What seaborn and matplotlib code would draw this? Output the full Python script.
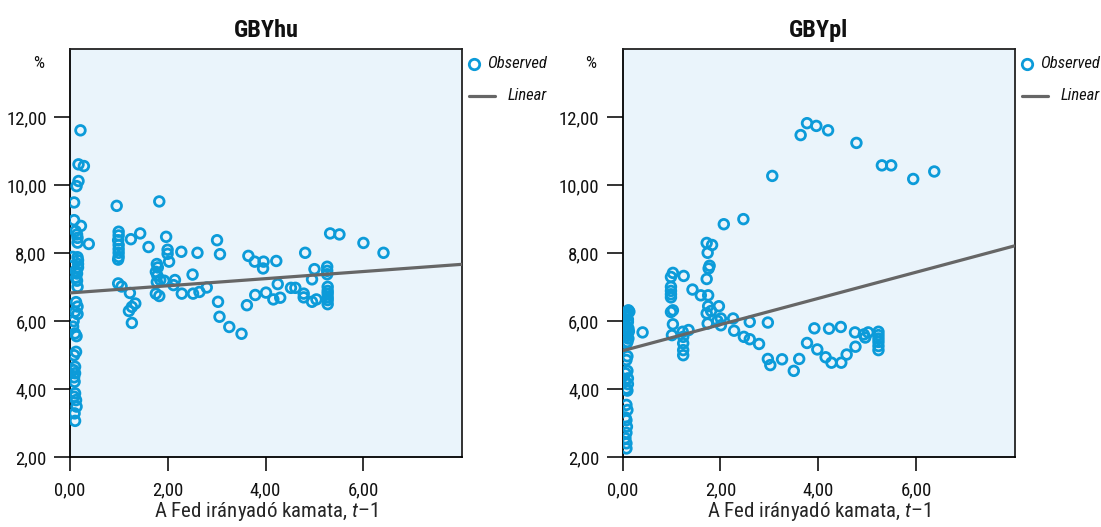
import matplotlib
matplotlib.use("Agg")
import matplotlib.pyplot as plt
import seaborn as sns
from matplotlib.lines import Line2D

# ---- data ----
hu_x = [0.22, 0.18, 0.29, 0.18, 0.14, 0.09, 0.09, 0.23, 0.12, 0.15, 0.16, 0.16, 0.39,
        0.06, 0.16, 0.17, 0.17, 0.17, 0.12, 0.15, 0.13, 0.15, 0.16, 0.13, 0.16, 0.11,
        0.16, 0.08, 0.07, 0.11, 0.14, 0.13, 0.09, 0.11, 0.08, 0.11, 0.09, 0.10, 0.11,
        0.09, 0.13, 0.14, 0.10, 0.11,
        0.96, 1.00, 1.00, 0.99, 1.00, 1.00, 1.00, 1.00, 0.99, 0.99, 1.06, 1.23, 1.34,
        1.27, 1.21, 1.27, 1.25, 1.44, 1.61, 1.83, 1.97, 2.00, 2.00, 2.03, 1.78, 1.80,
        1.76, 1.79, 1.78, 1.85, 1.76, 1.83, 1.93, 2.15, 2.12, 2.29, 2.28, 2.51, 2.52,
        2.65, 2.80, 2.61, 3.01, 3.07, 3.03, 3.06, 3.26, 3.51, 3.62, 3.65, 3.78, 3.79,
        3.96, 3.95, 4.01, 4.16, 4.22, 4.25, 4.30, 4.52, 4.61, 4.78, 4.78, 4.81, 4.95,
        5.04, 5.00, 4.95, 5.26, 5.26, 5.26, 5.27, 5.27, 5.27, 5.27, 5.27, 5.27, 5.32,
        5.51, 6.00, 6.41]
hu_y = [11.61, 10.61, 10.56, 10.12, 9.97, 9.49, 8.97, 8.80, 8.65, 8.55, 8.45, 8.31, 8.27,
        7.89, 7.88, 7.79, 7.68, 7.58, 7.48, 7.40, 7.28, 7.19, 7.01, 6.56, 6.43, 6.28,
        6.21, 6.00, 5.84, 5.64, 5.56, 5.10, 5.00, 4.66, 4.56, 4.47, 4.35, 4.22, 3.88,
        3.78, 3.68, 3.49, 3.29, 3.07,
        9.39, 8.63, 8.52, 8.38, 8.24, 8.12, 8.01, 7.89, 7.81, 7.11, 7.02, 6.83, 6.52,
        6.42, 6.30, 5.95, 8.41, 8.58, 8.18, 9.52, 8.48, 8.10, 7.98, 7.75, 7.68, 7.58,
        7.45, 7.34, 7.15, 7.21, 6.81, 6.74, 7.19, 7.21, 7.06, 6.81, 8.04, 7.37, 6.81,
        6.86, 6.99, 8.01, 8.38, 7.97, 6.57, 6.13, 5.83, 5.63, 6.47, 7.92, 7.75, 6.77,
        7.75, 7.55, 6.84, 6.64, 7.77, 7.09, 6.69, 6.98, 6.98, 6.81, 6.70, 8.01, 6.57,
        6.64, 7.53, 7.23, 7.60, 7.48, 7.38, 7.01, 6.89, 6.81, 6.70, 6.62, 6.50, 8.58,
        8.55, 8.30, 8.01]

pl_x = [0.12, 0.10, 0.08, 0.14, 0.11, 0.06, 0.12, 0.08, 0.06, 0.12, 0.10, 0.08, 0.11,
        0.05, 0.09, 0.13, 0.07, 0.41,
        0.10, 0.08, 0.10, 0.06, 0.11, 0.05, 0.11, 0.08, 0.10, 0.08, 0.10, 0.06, 0.08,
        0.09, 0.08, 0.06, 0.08, 0.08,
        1.03, 0.99, 0.99, 0.99, 0.99, 0.99, 0.99, 1.03, 1.03, 1.01, 1.25, 1.43, 1.60,
        1.75, 1.72, 1.78, 1.76, 1.74, 1.72, 1.83, 2.07, 2.47, 3.06, 3.64, 3.77, 3.96,
        4.20, 4.78, 5.30, 5.49, 5.94, 6.37,
        1.23, 1.24, 1.24, 1.24, 1.24, 1.35, 1.75, 1.72, 1.81, 1.97, 1.74, 1.94, 2.01,
        2.01, 2.26, 2.28, 2.48, 2.60, 2.60, 2.79, 2.97, 2.97, 3.02, 3.26, 3.50, 3.61,
        3.77, 3.92, 3.98, 4.15, 4.22, 4.27, 4.46, 4.47, 4.58, 4.76, 4.75, 4.93, 4.96,
        5.02, 5.23, 5.23, 5.23, 5.23, 5.23, 5.23]
pl_y = [6.32, 6.23, 6.13, 6.28, 5.98, 5.83, 5.79, 5.74, 5.64, 5.49, 5.39, 5.35, 6.05,
        5.92, 6.18, 5.70, 5.55, 5.67,
        4.97, 4.86, 4.54, 4.47, 4.32, 4.25, 4.15, 4.02, 3.96, 3.54, 3.39, 3.17, 3.09,
        2.90, 2.72, 2.56, 2.41, 2.26,
        7.42, 7.30, 7.01, 6.89, 6.79, 6.70, 6.27, 6.32, 5.91, 5.59, 7.33, 6.93, 6.76,
        6.76, 7.24, 7.63, 7.55, 8.01, 8.30, 8.24, 8.85, 9.00, 10.27, 11.47, 11.82, 11.74,
        11.61, 11.24, 10.58, 10.58, 10.18, 10.40,
        5.69, 5.54, 5.35, 5.15, 5.00, 5.74, 6.44, 6.23, 6.30, 6.44, 5.93, 6.01, 6.08,
        5.88, 6.08, 5.72, 5.54, 5.98, 5.47, 5.33, 5.96, 4.89, 4.71, 4.88, 4.54, 4.89,
        5.36, 5.79, 5.17, 4.94, 5.78, 4.78, 5.83, 4.78, 5.02, 5.25, 5.67, 5.61, 5.52,
        5.67, 5.69, 5.59, 5.49, 5.39, 5.27, 5.15]

# fitted linear lines (end points)
fit_x = [0.0, 8.0]
hu_fit = [6.83, 7.67]
pl_fit = [5.13, 8.21]

titles = ["GBYhu", "GBYpl"]
x_ticks = [0, 2, 4, 6]
x_ticklabels = ["0,00", "2,00", "4,00", "6,00"]
y_ticks = [2, 4, 6, 8, 10, 12]
y_ticklabels = ["2,00", "4,00", "6,00", "8,00", "10,00", "12,00"]
x_label = "A Fed irányadó kamata, $\\it{t}$–1"

sns.set_theme(style="white")
plt.rcParams["font.family"] = ["Roboto Condensed", "Liberation Sans Narrow",
                               "Liberation Sans", "DejaVu Sans"]
plt.rcParams["mathtext.fontset"] = "custom"
plt.rcParams["mathtext.it"] = "Roboto Condensed:italic"
plt.rcParams["mathtext.rm"] = "Roboto Condensed"
plt.rcParams["text.color"] = "#111111"
plt.rcParams["xtick.color"] = "#111111"
plt.rcParams["ytick.color"] = "#111111"

blue = "#0C9BD9"
grey = "#666666"

fig = plt.figure(figsize=(11.01, 5.27), dpi=100)
axes = [fig.add_axes([0.0633, 0.1323, 0.3566, 0.7747]),
        fig.add_axes([0.5654, 0.1323, 0.3565, 0.7747])]

series = [(hu_x, hu_y, hu_fit), (pl_x, pl_y, pl_fit)]

for ax, (xs, ys, fit), title in zip(axes, series, titles):
    ax.set_facecolor("#EAF4FB")
    sns.scatterplot(x=xs, y=ys, ax=ax, s=48, marker="o", facecolor="none",
                    edgecolor=blue, linewidth=2.0, zorder=3)
    sns.lineplot(x=fit_x, y=fit, ax=ax, color=grey, lw=2.3, zorder=4)

    ax.set_xlim(0, 8.02)
    ax.set_ylim(2, 14)
    ax.set_xticks(x_ticks)
    ax.set_xticklabels(x_ticklabels)
    ax.set_yticks(y_ticks)
    ax.set_yticklabels(y_ticklabels)
    ax.tick_params(axis="y", length=11.5, width=1.2, pad=5, labelsize=13.5,
                   left=True)
    ax.tick_params(axis="x", length=10, width=1.2, pad=7, labelsize=13.5,
                   bottom=True)
    for s in ax.spines.values():
        s.set_color("#222222")
        s.set_linewidth(1.3)
    ax.spines["left"].set_color("#000000")
    ax.spines["bottom"].set_color("#000000")

    ax.set_xlabel(x_label, fontsize=15, labelpad=1)
    ax.set_ylabel("")
    ax.set_title(title, fontsize=17.5, fontweight="bold", pad=9)
    ax.text(-0.08, 0.965, "%", transform=ax.transAxes, ha="center", va="center",
            fontsize=12.5)

    # legend at the right of each panel
    pos = ax.get_position()
    x0 = pos.x1
    fig.add_artist(Line2D([x0 + 12 / 1101], [1 - 64 / 527], marker="o", ms=7.5,
                          mfc="none", mec=blue, mew=2.0, ls="none"))
    fig.add_artist(Line2D([x0 + 7 / 1101, x0 + 33 / 1101], [1 - 96 / 527] * 2,
                          color=grey, lw=2.3))
    fig.text(x0 + 85 / 1101, 1 - 64 / 527, "Observed", ha="right", va="center",
             fontsize=12, style="italic")
    fig.text(x0 + 85 / 1101, 1 - 96 / 527, "Linear", ha="right", va="center",
             fontsize=12, style="italic")

fig.savefig("out.png", dpi=100)
